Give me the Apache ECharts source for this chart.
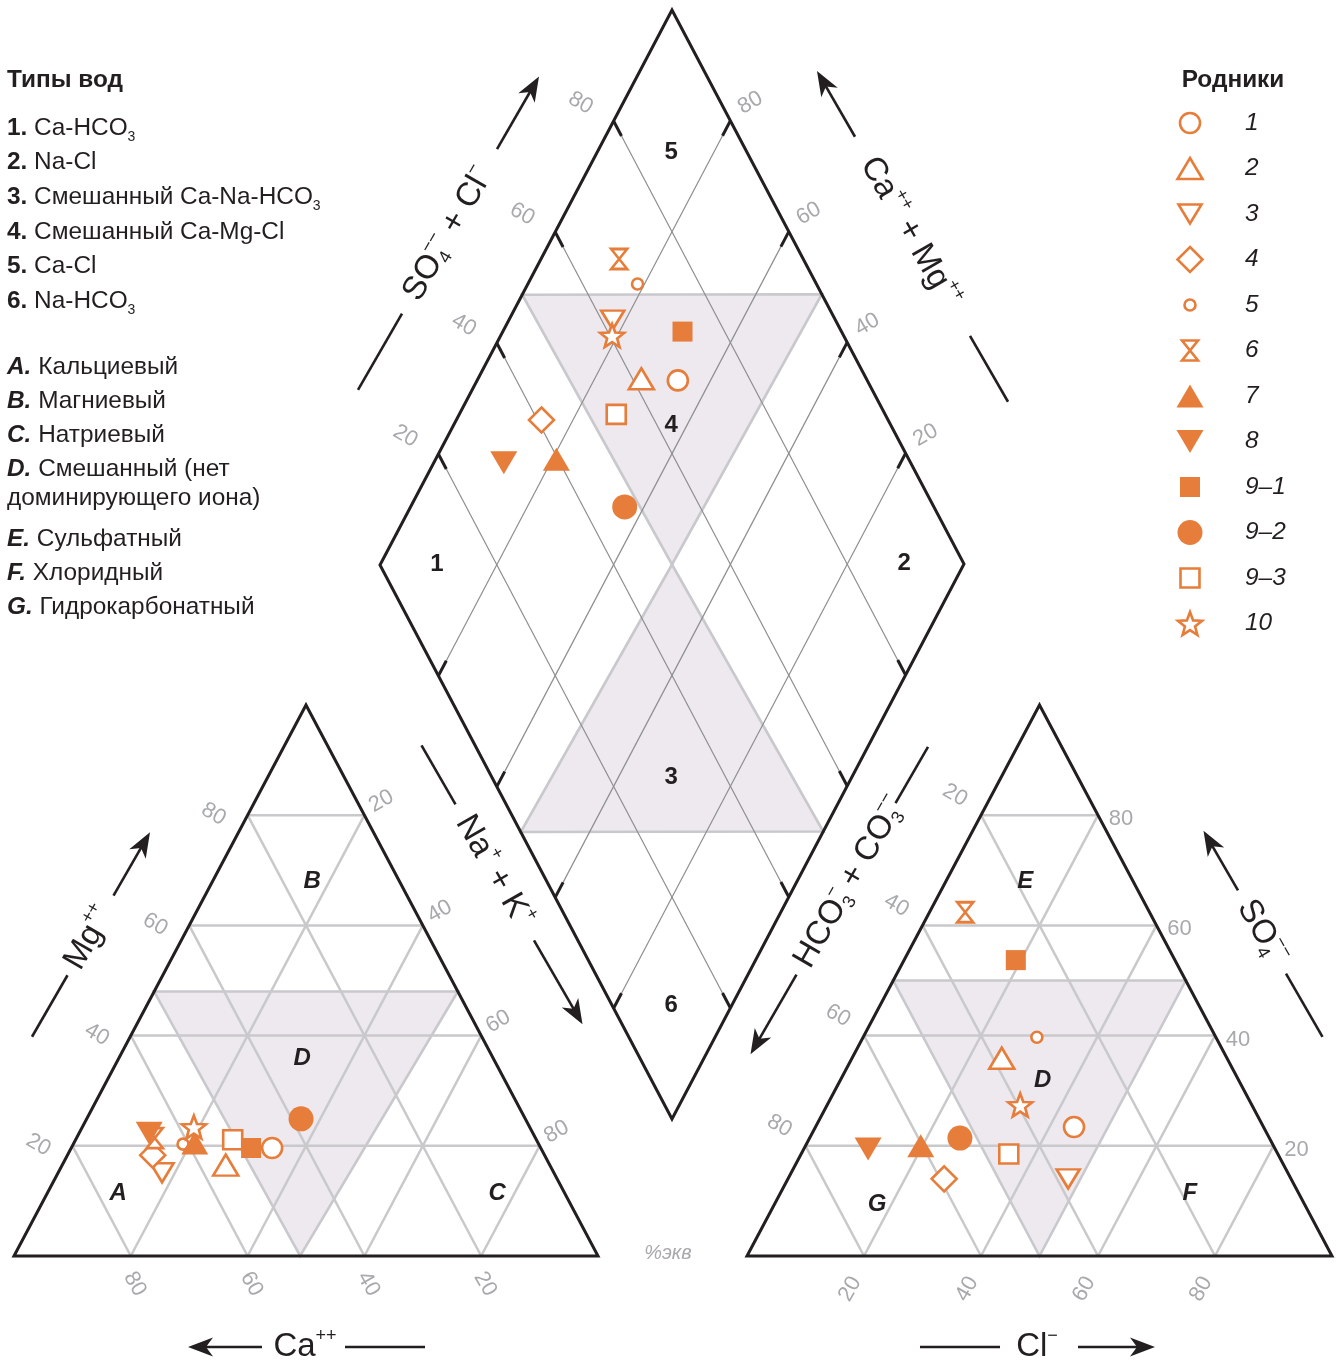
<!DOCTYPE html>
<html lang="ru">
<head>
<meta charset="utf-8">
<title>Диаграмма Пайпера — родники</title>
<script src="https://cdn.jsdelivr.net/npm/echarts@6.0.0/dist/echarts.min.js"></script>
<style>
  html, body { margin: 0; padding: 0; background: #fff; }
  #chart { width: 1342px; height: 1363px; }
</style>
</head>
<body>
<div id="chart"></div>
<script>
// ---------- spring composition, % equivalents ----------
const springs = ['1', '2', '3', '4', '5', '6', '7', '8', '9–1', '9–2', '9–3', '10'];
// cations
const ca   = [46.0, 55.5, 67.1, 67.1, 60.9, 65.2, 58.8, 65.7, 49.6, 38.4, 52.0, 57.5];
const mg   = [19.6, 16.5, 15.1, 18.3, 20.3, 21.4, 20.5, 22.3, 19.6, 24.9, 21.1, 23.4];
const naK  = [34.4, 28.0, 17.8, 14.6, 18.8, 13.4, 20.7, 12.0, 30.8, 36.7, 26.9, 19.1];
// anions
const hco3 = [32.4, 38.5, 38.1, 59.3, 30.6, 31.5, 60.3, 69.6, 27.2, 52.9, 46.0, 39.6];
const so4  = [23.4, 35.9, 14.0, 14.0, 39.7, 62.4, 20.0, 19.4, 53.7, 21.4, 18.5, 27.4];
const cl   = [44.2, 25.6, 47.9, 26.7, 29.7,  6.1, 19.7, 11.0, 19.1, 25.7, 35.5, 33.0];

const ticks = [20, 40, 60, 80];

const waterTypes = ['Ca-HCO_3', 'Na-Cl', 'Смешанный Ca-Na-HCO_3', 'Смешанный Ca-Mg-Cl', 'Ca-Cl', 'Na-HCO_3'];
const ionClassKeys = ['A', 'B', 'C', 'D', 'E', 'F', 'G'];
const ionClassNames = ['Кальциевый', 'Магниевый', 'Натриевый', 'Смешанный (нет\nдоминирующего иона)',
                       'Сульфатный', 'Хлоридный', 'Гидрокарбонатный'];
const diamondFields = ['1', '2', '3', '4', '5', '6'];

// ---------- styling ----------
const INK = '#231F20';
const LABEL_GREY = '#A7A9AC';
const GRID_GREY = '#C9C9CB';
const DIAMOND_GRID = '#8E8E90';
const SHADE = '#EDE9EF';
const SHADE_EDGE = '#C9C8CC';
const ORANGE = '#E67D3A';
const FONT = '"Liberation Sans", Arial, Helvetica, sans-serif';
const TXT = 24.4;

// ---------- plotting fields (chart units are pixels) ----------
const CAT = { x0: 14, y0: 1256, w: 584, h: 551 };
const AN  = { x0: 747, y0: 1256, w: 585, h: 551 };
const DIA = { x: 380, y: 565, nx: 292, ny: 554, sx: 292, sy: -555 };

function catXY(c, m, n) { return [CAT.x0 + CAT.w * (n + m / 2) / 100, CAT.y0 - CAT.h * m / 100]; }
function anXY(h, s, c) { return [AN.x0 + AN.w * (c + s / 2) / 100, AN.y0 - AN.h * s / 100]; }
function diaXY(n, s) { return [DIA.x + (DIA.nx * n + DIA.sx * s) / 100, DIA.y + (DIA.ny * n + DIA.sy * s) / 100]; }

// ---------- marker shapes ----------
function starUnit(inner) {
  const pts = [];
  for (let k = 0; k < 10; k++) {
    const a = -Math.PI / 2 + k * Math.PI / 5, r = k % 2 ? inner : 1;
    pts.push([Math.cos(a) * r, Math.sin(a) * r]);
  }
  const xs = pts.map(p => p[0]), ys = pts.map(p => p[1]);
  const x0 = Math.min(...xs), x1 = Math.max(...xs), y0 = Math.min(...ys), y1 = Math.max(...ys);
  return pts.map(p => [(p[0] - x0) / (x1 - x0), (p[1] - y0) / (y1 - y0)]);
}
const UNIT = {
  triangle: [[0.5, 0], [1, 1], [0, 1]],
  triangleDown: [[0, 0], [1, 0], [0.5, 1]],
  diamond: [[0.5, 0], [1, 0.5], [0.5, 1], [0, 0.5]],
  hourglass: [[0, 0], [1, 0], [0, 1], [1, 1]],
  star: starUnit(0.42)
};
function unitPath(pts) {
  return 'path://' + pts.map((p, k) => (k ? 'L' : 'M') + (p[0] * 100).toFixed(2) + ',' + (p[1] * 100).toFixed(2)).join('') + 'Z';
}
const SYMBOL_OF = {
  circle: 'circle', triangle: 'triangle', triangleDown: 'triangle', diamond: 'diamond',
  rect: 'rect', hourglass: unitPath(UNIT.hourglass), star: unitPath(UNIT.star)
};
const MARKERS = [
  { kind: 'circle', size: [20, 20], filled: false },
  { kind: 'triangle', size: [25, 21], filled: false },
  { kind: 'triangleDown', size: [23, 19], filled: false },
  { kind: 'diamond', size: [25, 25], filled: false },
  { kind: 'circle', size: [11, 11], filled: false },
  { kind: 'hourglass', size: [16, 20], filled: false },
  { kind: 'triangle', size: [27, 23], filled: true },
  { kind: 'triangleDown', size: [27, 23], filled: true },
  { kind: 'rect', size: [20, 20], filled: true },
  { kind: 'circle', size: [25, 25], filled: true },
  { kind: 'rect', size: [19, 19], filled: false },
  { kind: 'star', size: [24, 23], filled: false }
];
function markerStyle(m) {
  return m.filled ? { fill: ORANGE } : { fill: '#fff', stroke: ORANGE, lineWidth: 2.6 };
}
function legendShape(m, cx, cy) {
  const [w, h] = m.size, style = markerStyle(m);
  if (m.kind === 'circle') return { type: 'circle', shape: { cx, cy, r: w / 2 }, style };
  if (m.kind === 'rect') return { type: 'rect', shape: { x: cx - w / 2, y: cy - h / 2, width: w, height: h }, style };
  return { type: 'polygon', shape: { points: UNIT[m.kind].map(p => [cx + (p[0] - 0.5) * w, cy + (p[1] - 0.5) * h]) }, style };
}

// ---------- text helpers ----------
const MCTX = document.createElement('canvas').getContext('2d');
function measure(t, font) { MCTX.font = font; return MCTX.measureText(t).width; }
function layoutRun(parts) {
  let cur = 0, lastX = 0, lastW = 0;
  const kids = [];
  parts.forEach(p => {
    const font = (p.italic ? 'italic ' : '') + (p.bold ? 'bold ' : '') + p.size + 'px ' + FONT;
    const w = measure(p.t, font);
    let x;
    if (p.stack) { x = lastX; lastW = Math.max(lastW, w); cur = lastX + lastW; }
    else { x = cur; lastX = x; lastW = w; cur = x + w; }
    kids.push({ type: 'text', x, y: p.dy || 0,
      style: { text: p.t, font, fill: p.color || INK, align: 'left', verticalAlign: 'middle' } });
  });
  return { kids, width: cur };
}
// 'HCO_3' -> regular text with a subscript digit
function chemParts(str, size, subSize, subDy) {
  const out = [];
  str.split(/_(\d)/).forEach((s, k) => {
    if (!s) return;
    out.push(k % 2 ? { t: s, size: subSize, dy: subDy } : { t: s, size });
  });
  return out;
}

const BIG = 33, SUP = 18, SUP_DY = -11, SUB_DY = 10;
const sup = t => ({ t, size: SUP, dy: SUP_DY });
const supStack = t => ({ t, size: SUP, dy: SUP_DY, stack: true });
const sub = t => ({ t, size: SUP, dy: SUB_DY });
const big = t => ({ t, size: BIG });

function axisTitle(parts, cx, cy, rot, plain, arrow) {
  const r = layoutRun(parts);
  r.kids.forEach(k => { k.x -= r.width / 2; });
  const kids = r.kids.slice();
  kids.push({ type: 'polyline', shape: { points: [[plain[0], 0], [plain[1], 0]] }, style: { stroke: INK, lineWidth: 2.6, fill: null } });
  const dir = Math.sign(arrow[1] - arrow[0]), tip = arrow[1];
  kids.push({ type: 'polyline', shape: { points: [[arrow[0], 0], [tip - dir * 14, 0]] }, style: { stroke: INK, lineWidth: 2.6, fill: null } });
  kids.push({ type: 'polygon', shape: { points: [[tip, 0], [tip - dir * 25, -9.5], [tip - dir * 18, 0], [tip - dir * 25, 9.5]] }, style: { fill: INK } });
  return { type: 'group', x: cx, y: cy, rotation: rot, children: kids };
}

// ---------- frame: triangles, diamond, grids, field labels ----------
function renderFrame(params, api) {
  const P = p => api.coord(p);
  const kids = [];
  const seg = (pts, stroke, lw) => kids.push({ type: 'polyline', shape: { points: pts.map(P) }, style: { stroke, lineWidth: lw, fill: null } });
  const poly = (pts, fill, stroke, lw) => kids.push({ type: 'polygon', shape: { points: pts.map(P) }, style: { fill, stroke, lineWidth: lw, lineJoin: 'miter' } });
  const label = (p, t, font, fill, rot, dx, dy) => {
    const c = P(p);
    kids.push({ type: 'text', x: c[0] + dx, y: c[1] + dy, rotation: rot,
      style: { text: t, font, fill, align: 'center', verticalAlign: 'middle' } });
  };
  const tickFont = '22px ' + FONT;
  const letterFont = 'italic bold 24px ' + FONT;
  const numberFont = 'bold 24px ' + FONT;
  const R30 = Math.PI / 6, R60 = Math.PI / 3;

  // cation triangle
  poly([catXY(52, 48, 0), catXY(0, 48, 52), catXY(51, 0, 49)], SHADE, SHADE_EDGE, 2.6);
  ticks.forEach(v => {
    seg([catXY(100 - v, v, 0), catXY(0, v, 100 - v)], GRID_GREY, 2.5);
    seg([catXY(100 - v, 0, v), catXY(0, 100 - v, v)], GRID_GREY, 2.5);
    seg([catXY(v, 0, 100 - v), catXY(v, 100 - v, 0)], GRID_GREY, 2.5);
  });
  poly([catXY(100, 0, 0), catXY(0, 100, 0), catXY(0, 0, 100)], 'none', INK, 3);
  ticks.forEach(v => {
    label(catXY(100 - v, v, 0), String(v), tickFont, LABEL_GREY, -R30, -34, -1);
    label(catXY(v, 0, 100 - v), String(v), tickFont, LABEL_GREY, -R60, 4, 28);
    label(catXY(0, 100 - v, v), String(v), tickFont, LABEL_GREY, R30, 17, -14);
  });
  label(catXY(76.5, 11.3, 12.2), 'A', letterFont, INK, 0, 0, 0);
  label(catXY(15.0, 67.9, 17.1), 'B', letterFont, INK, 0, 0, 0);
  label(catXY(11.6, 11.3, 77.1), 'C', letterFont, INK, 0, 0, 0);
  label(catXY(32.7, 35.9, 31.4), 'D', letterFont, INK, 0, 0, 0);

  // anion triangle
  poly([anXY(50, 50, 0), anXY(0, 50, 50), anXY(50, 0, 50)], SHADE, SHADE_EDGE, 2.6);
  ticks.forEach(v => {
    seg([anXY(100 - v, v, 0), anXY(0, v, 100 - v)], GRID_GREY, 2.5);
    seg([anXY(100 - v, 0, v), anXY(0, 100 - v, v)], GRID_GREY, 2.5);
    seg([anXY(v, 0, 100 - v), anXY(v, 100 - v, 0)], GRID_GREY, 2.5);
  });
  poly([anXY(100, 0, 0), anXY(0, 100, 0), anXY(0, 0, 100)], 'none', INK, 3);
  ticks.forEach(v => {
    label(anXY(v, 100 - v, 0), String(v), tickFont, LABEL_GREY, -R30, -26, -20);
    label(anXY(0, v, 100 - v), String(v), tickFont, LABEL_GREY, 0, 23, 4);
    label(anXY(100 - v, 0, v), String(v), tickFont, LABEL_GREY, R60, -14, 33);
  });
  label(anXY(18.5, 67.9, 13.6), 'E', letterFont, INK, 0, 0, 0);
  label(anXY(18.6, 11.4, 70.0), 'F', letterFont, INK, 0, 0, 0);
  label(anXY(73.1, 9.3, 17.6), 'G', letterFont, INK, 0, 0, 0);
  label(anXY(33.5, 31.9, 34.6), 'D', letterFont, INK, 0, 0, 0);

  // diamond
  poly([diaXY(0, 48.7), diaXY(51.3, 100), diaXY(50, 50)], SHADE, SHADE_EDGE, 2.6);
  poly([diaXY(48.2, 0), diaXY(100, 51.8), diaXY(50, 50)], SHADE, SHADE_EDGE, 2.6);
  ticks.forEach(v => {
    seg([diaXY(v, 0), diaXY(v, 100)], DIAMOND_GRID, 1.2);
    seg([diaXY(0, v), diaXY(100, v)], DIAMOND_GRID, 1.2);
  });
  ticks.forEach(v => {
    seg([diaXY(v, 0), diaXY(v, 2.7)], INK, 3);
    seg([diaXY(v, 100), diaXY(v, 97.3)], INK, 3);
    seg([diaXY(0, v), diaXY(2.7, v)], INK, 3);
    seg([diaXY(100, v), diaXY(97.3, v)], INK, 3);
  });
  poly([diaXY(0, 0), diaXY(0, 100), diaXY(100, 100), diaXY(100, 0)], 'none', INK, 3);
  ticks.forEach(v => {
    label(diaXY(0, v), String(v), tickFont, LABEL_GREY, -R30, -33, -18);
    label(diaXY(100 - v, 100), String(v), tickFont, LABEL_GREY, R30, 20, -18);
  });
  const fieldAt = [[9.7, 9.8], [89.7, 89.8], [69.0, 30.7], [37.3, 62.4], [12.7, 87.0], [89.6, 10.1]];
  diamondFields.forEach((t, k) => label(diaXY(fieldAt[k][0], fieldAt[k][1]), t, numberFont, INK, 0, 0, 0));

  return { type: 'group', children: kids };
}

// ---------- sample marks: cation, diamond and anion positions ----------
const markSeries = springs.map((name, i) => {
  const m = MARKERS[i];
  return {
    type: 'scatter', name, z: 3, silent: true,
    symbol: SYMBOL_OF[m.kind], symbolSize: m.size,
    symbolRotate: m.kind === 'triangleDown' ? 180 : 0,
    itemStyle: m.filled ? { color: ORANGE, opacity: 1 }
                        : { color: '#fff', borderColor: ORANGE, borderWidth: 2.6, opacity: 1 },
    emphasis: { disabled: true },
    data: [
      catXY(ca[i], mg[i], naK[i]),
      diaXY(naK[i], so4[i] + cl[i]),
      anXY(hco3[i], so4[i], cl[i])
    ]
  };
});

// ---------- legends and axis titles ----------
const graphics = [];

// water types / ion classes (left)
graphics.push({ type: 'group', x: 7, y: 80, children: layoutRun([{ t: 'Типы вод', size: TXT, bold: true }]).kids });
waterTypes.forEach((s, k) => {
  const parts = [{ t: (k + 1) + '.', size: TXT, bold: true }].concat(chemParts(' ' + s, TXT, 14, 9));
  graphics.push({ type: 'group', x: 7, y: 128 + 34.6 * k, children: layoutRun(parts).kids });
});
ionClassKeys.forEach((key, k) => {
  const y = 367 + 34 * k + (k >= 4 ? 36 : 0);
  const lines = ionClassNames[k].split('\n');
  graphics.push({ type: 'group', x: 7, y, children: layoutRun([{ t: key + '.', size: TXT, bold: true, italic: true }, { t: ' ' + lines[0], size: TXT }]).kids });
  if (lines[1]) graphics.push({ type: 'group', x: 7, y: y + 29, children: layoutRun([{ t: lines[1], size: TXT }]).kids });
});

// springs legend (right)
graphics.push({ type: 'text', x: 1233, y: 80, style: { text: 'Родники', font: 'bold ' + TXT + 'px ' + FONT, fill: INK, align: 'center', verticalAlign: 'middle' } });
springs.forEach((name, k) => {
  const y = 123 + 45.5 * k;
  graphics.push(legendShape(MARKERS[k], 1190, y));
  graphics.push({ type: 'text', x: 1245, y, style: { text: name, font: 'italic ' + TXT + 'px ' + FONT, fill: INK, align: 'left', verticalAlign: 'middle' } });
});

// axis titles with arrows
const R60 = Math.PI / 3;
graphics.push(axisTitle([big('Ca'), sup('++')], 305, 1347, 0, [40, 120], [-43, -117]));
graphics.push(axisTitle([big('Cl'), sup('−')], 1037, 1347, 0, [-117, -37], [41, 118]));
graphics.push(axisTitle([big('Mg'), sup('++')], 89, 938, R60, [-43, -114], [49, 122]));
graphics.push(axisTitle([big('Na'), sup('+'), big(' + K'), sup('+')], 494, 871, -R60, [-145, -77], [80, 177]));
graphics.push(axisTitle([big('SO'), sub('4'), supStack('−−'), big(' + Cl'), sup('−')], 448, 234, R60, [-92, -180], [98, 182]));
graphics.push(axisTitle([big('Ca'), sup('++'), big(' + Mg'), sup('++')], 910, 232, -R60, [120, 196], [-110, -186]));
graphics.push(axisTitle([big('HCO'), sub('3'), supStack('−'), big(' + CO'), sub('3'), supStack('−−')], 850, 882, R60, [91, 156], [-107, -199]));
graphics.push(axisTitle([big('SO'), sub('4'), supStack('−−')], 1262, 932, -R60, [48, 121], [-48, -117]));

graphics.push({ type: 'text', x: 668, y: 1253, style: { text: '%экв', font: 'italic 20px ' + FONT, fill: LABEL_GREY, align: 'center', verticalAlign: 'middle' } });

// ---------- chart ----------
const chart = echarts.init(document.getElementById('chart'), null, { renderer: 'canvas' });
chart.setOption({
  animation: false,
  backgroundColor: '#fff',
  grid: { left: 0, right: 0, top: 0, bottom: 0 },
  xAxis: { type: 'value', min: 0, max: 1342, show: false },
  yAxis: { type: 'value', min: 0, max: 1363, inverse: true, show: false },
  series: [
    { type: 'custom', name: 'frame', z: 1, silent: true, clip: false, renderItem: renderFrame, data: [[0, 0]] }
  ].concat(markSeries),
  graphic: graphics
});
</script>
</body>
</html>
